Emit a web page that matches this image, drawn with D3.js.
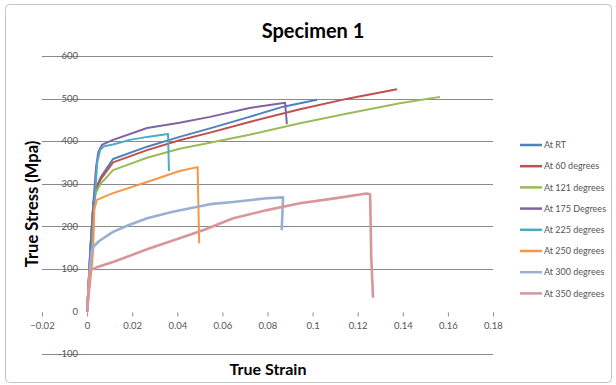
<!DOCTYPE html>
<html>
<head>
<meta charset="utf-8">
<script src="https://cdnjs.cloudflare.com/ajax/libs/d3/7.8.5/d3.min.js"></script>
<style>
  body { margin: 0; background: #fff; }
  text { font-family: Lato, "Open Sans", sans-serif; }
</style>
</head>
<body>
<div id="vis"></div>
<script>
// series names, colours and points
var names = ["At RT", "At 60 degrees", "At 121 degrees", "At 175 Degrees",
             "At 225 degrees", "At 250 degrees", "At 300 degrees", "At 350 degrees"];
var colors = ["#4F81BD", "#C0504D", "#9BBB59", "#8064A2",
              "#4BACC6", "#F79646", "#9AAFD4", "#D9959A"];

var atRT = [[0,0],[0.0015,150],[0.0028,255],[0.004,290],[0.006,315],[0.0115,358],[0.0266,387],
            [0.041,410],[0.0545,430],[0.072,457],[0.087,481],[0.102,497]];
var at60 = [[0,0],[0.0015,150],[0.0028,255],[0.004,287],[0.006,310],[0.0115,350],[0.0266,379],
            [0.041,402],[0.0545,420],[0.072,445],[0.0944,475],[0.1166,501],[0.1374,522]];
var at121 = [[0,0],[0.0015,150],[0.0028,250],[0.004,280],[0.006,300],[0.0115,332],[0.0266,361],
             [0.041,382],[0.055,397],[0.072,415],[0.0944,442],[0.1166,466],[0.1387,489],[0.1565,504]];
var at175 = [[0,0],[0.0015,150],[0.003,270],[0.004,340],[0.005,375],[0.0067,392],[0.0115,403],
             [0.0266,431],[0.041,443],[0.0545,457],[0.072,478],[0.0878,490],[0.0886,440]];
var at225 = [[0,0],[0.002,150],[0.0035,270],[0.0045,350],[0.0058,380],[0.0075,388],[0.0115,392],
             [0.019,403],[0.0266,410],[0.0359,417],[0.0363,330]];
var at250 = [[0,0],[0.002,100],[0.0027,145],[0.0032,240],[0.0043,262],[0.0115,278],[0.0266,304],
             [0.041,330],[0.049,339],[0.0497,160]];
var at300 = [[0,0],[0.0008,60],[0.0013,100],[0.002,140],[0.003,153],[0.0055,166],[0.0115,187],
             [0.018,202],[0.0266,219],[0.038,234],[0.0545,252],[0.0648,257],[0.0798,266],
             [0.0869,268],[0.0863,191]];
var at350 = [[0,0],[0.0008,60],[0.0013,97],[0.004,103],[0.0115,116],[0.0266,146],[0.041,172],
             [0.052,192],[0.0648,219],[0.0798,238],[0.0944,254],[0.109,265],[0.124,277],
             [0.1255,275],[0.126,130],[0.1268,32]];
var series = [atRT, at60, at121, at175, at225, at250, at300, at350];

var xTicks = [-0.02, 0, 0.02, 0.04, 0.06, 0.08, 0.1, 0.12, 0.14, 0.16, 0.18];
var yTicks = [-100, 0, 100, 200, 300, 400, 500, 600];

var W = 616, H = 385;
var svg = d3.select("#vis").append("svg").attr("width", W).attr("height", H);

// chart border
svg.append("rect")
  .attr("x", 5.5).attr("y", 4.5).attr("width", 606).attr("height", 378)
  .attr("rx", 4)
  .attr("fill", "#fff").attr("stroke", "#c4c4c4");

var x = d3.scaleLinear().domain([-0.02, 0.18]).range([42, 493]);
var y = d3.scaleLinear().domain([-100, 600]).range([354, 56]);

// gridlines (no line at zero)
svg.selectAll(".grid")
  .data(yTicks.filter(function(d) { return d !== 0; }))
  .enter().append("line")
  .attr("x1", x(-0.02)).attr("x2", x(0.18))
  .attr("y1", function(d) { return Math.round(y(d)) + 0.5; })
  .attr("y2", function(d) { return Math.round(y(d)) + 0.5; })
  .attr("stroke", "#8a8a8a").attr("stroke-width", 1);

// y labels next to the axis at x = 0
svg.selectAll(".ylab")
  .data(yTicks)
  .enter().append("text")
  .attr("x", 78).attr("y", function(d) { return y(d); })
  .attr("dy", "0.35em")
  .attr("text-anchor", "end")
  .attr("font-size", 9.5)
  .attr("fill", "#555")
  .text(function(d) { return d; });

// x axis on y = 0, no domain line
var xAxis = svg.append("g")
  .attr("transform", "translate(0," + (y(0) + 1) + ")")
  .call(d3.axisBottom(x).tickValues(xTicks).tickSize(4).tickPadding(6)
        .tickFormat(function(d) { return d3.format("")(+d.toFixed(2)); }));
xAxis.select(".domain").remove();
xAxis.selectAll(".tick line").attr("stroke", "#8a8a8a");
xAxis.selectAll(".tick text")
  .attr("font-size", 9.5).attr("fill", "#555")
  .style("font-family", "Lato, sans-serif");

// curves
var line = d3.line()
  .x(function(d) { return x(d[0]); })
  .y(function(d) { return y(d[1]); });

svg.selectAll(".curve")
  .data(series)
  .enter().append("path")
  .attr("d", line)
  .attr("fill", "none")
  .attr("stroke", function(d, i) { return colors[i]; })
  .attr("stroke-width", function(d, i) { return i >= 6 ? 2.6 : 2; })
  .attr("stroke-linejoin", "round");

// titles
svg.append("text")
  .attr("x", 313).attr("y", 38)
  .attr("text-anchor", "middle")
  .attr("font-size", 20).attr("font-weight", "bold")
  .attr("fill", "#000")
  .text("Specimen 1");

svg.append("text")
  .attr("transform", "translate(38,204) rotate(-90)")
  .attr("text-anchor", "middle")
  .attr("font-size", 16.5).attr("font-weight", "bold")
  .attr("fill", "#000")
  .text("True Stress (Mpa)");

svg.append("text")
  .attr("x", 268).attr("y", 375)
  .attr("text-anchor", "middle")
  .attr("font-size", 16).attr("font-weight", "bold")
  .attr("fill", "#000")
  .text("True Strain");

// legend
var legend = svg.selectAll(".leg")
  .data(names)
  .enter().append("g")
  .attr("transform", function(d, i) { return "translate(520," + (145 + i * 21.2) + ")"; });

legend.append("line")
  .attr("x1", 0).attr("x2", 22)
  .attr("stroke", function(d, i) { return colors[i]; })
  .attr("stroke-width", 2.5);

legend.append("text")
  .attr("x", 24).attr("dy", "0.35em")
  .attr("font-size", 9).attr("fill", "#555")
  .text(function(d) { return d; });
</script>
</body>
</html>
